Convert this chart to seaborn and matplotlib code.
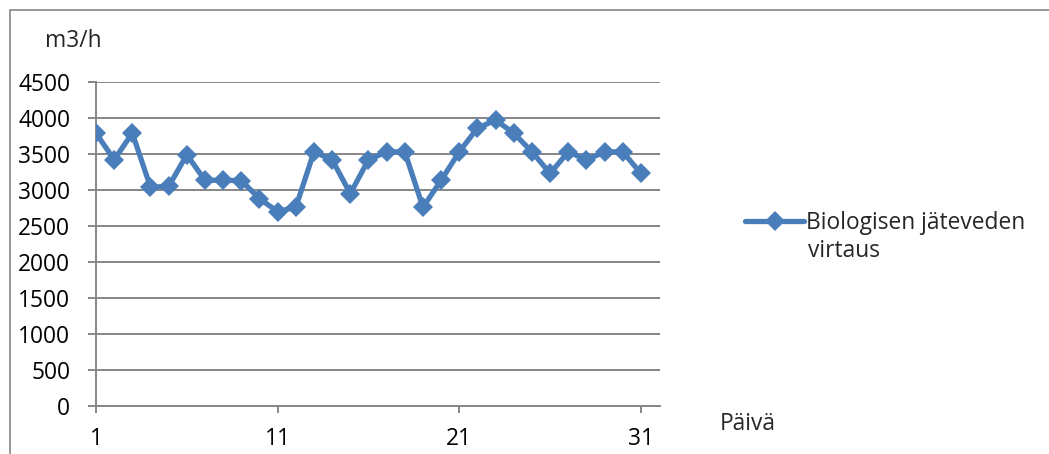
import numpy as np
import pandas as pd
import matplotlib
matplotlib.use("Agg")
import matplotlib.pyplot as plt
from matplotlib.patches import Rectangle
import seaborn as sns

# Daily flow of biological wastewater (m3/h)
days = list(range(1, 32))
flow = [3790, 3420, 3790, 3040, 3050, 3490, 3135, 3135, 3130, 2880,
        2700, 2760, 3530, 3420, 2950, 3420, 3530, 3530, 2760, 3135,
        3530, 3860, 3970, 3790, 3530, 3230, 3530, 3420, 3530, 3530,
        3230]
x_ticks = [1, 11, 21, 31]
y_ticks = [0, 500, 1000, 1500, 2000, 2500, 3000, 3500, 4000, 4500]
series_label = "Biologisen jäteveden"
series_label_2 = "virtaus"
y_unit = "m3/h"
x_title = "Päivä"

sns.set_theme(style="white")
plt.rcParams["font.family"] = ["Open Sans", "DejaVu Sans"]
FS = 16.4

W, H = 1049, 454
fig = plt.figure(figsize=(W / 100, H / 100), dpi=100)
ax = fig.add_axes([96 / W, 1 - 406 / H, (660 - 96) / W, (406 - 82) / H])

df = pd.DataFrame({"day": days, "flow": flow})
blue = "#4A7EBB"
grid_c = "#868686"

sns.lineplot(data=df, x="day", y="flow", ax=ax, color=blue, linewidth=3.8,
             marker="D", markersize=10.5, markeredgewidth=0, label=series_label,
             zorder=3)

ax.set_xlim(1, 32.05)
ax.set_ylim(0, 4500)
ax.set_xticks(x_ticks)
ax.set_yticks(y_ticks)
ax.set_xlabel("")
ax.set_ylabel("")
ax.yaxis.grid(True, color=grid_c, linewidth=1.4)
ax.set_axisbelow(True)
for side in ["top", "right"]:
    ax.spines[side].set_visible(False)
for side in ["left", "bottom"]:
    ax.spines[side].set_color(grid_c)
    ax.spines[side].set_linewidth(1.4)
ax.tick_params(axis="y", which="major", length=6, width=1.4, color=grid_c,
               left=True, labelsize=FS, pad=12.5, labelcolor="black")
ax.tick_params(axis="x", which="major", length=5, width=1.4, color=grid_c,
               bottom=True, labelsize=FS, pad=10, labelcolor="black")

leg = ax.legend(loc="upper left", bbox_to_anchor=(745 / W, 1 - 211 / H),
                bbox_transform=fig.transFigure, frameon=False, fontsize=FS,
                handlelength=2.6, handletextpad=0.1, borderpad=0,
                borderaxespad=0)
fig.text(808 / W, 1 - 251 / H, series_label_2, fontsize=FS,
         ha="left", va="center")

fig.text(45 / W, 1 - 41 / H, y_unit, fontsize=FS, ha="left", va="center")
fig.text(720 / W, 1 - 424 / H, x_title, fontsize=FS, ha="left", va="center")

# chart frame
fig.patches.append(Rectangle((9.5 / W, -0.5), 2, 1 - 10 / H + 0.5,
                             transform=fig.transFigure, fill=False,
                             edgecolor=grid_c, linewidth=1.2))

fig.savefig("out.png", dpi=100)
